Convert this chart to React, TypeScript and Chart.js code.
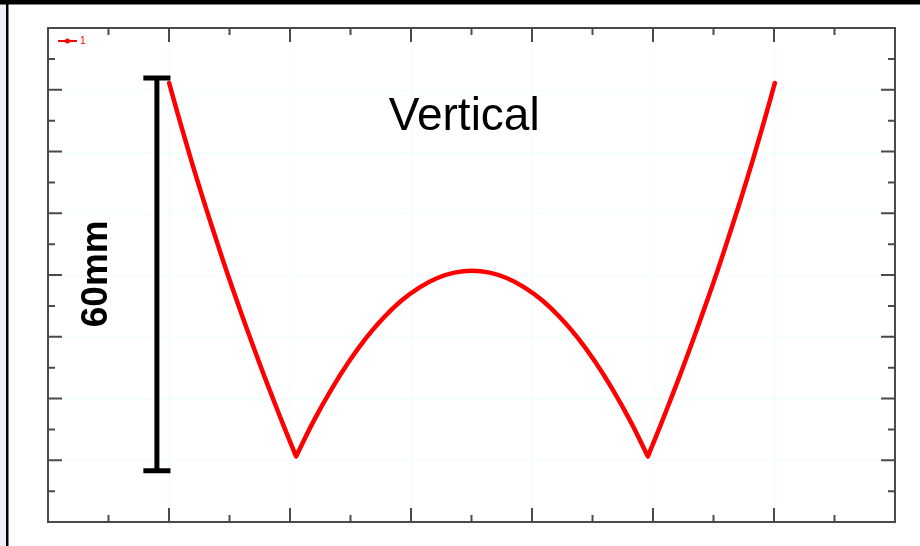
import { useEffect, useRef } from 'react';
import { Chart, registerables } from 'chart.js';

Chart.register(...registerables);

// Curve samples (abstract units: x major tick = 1, y major tick = 1).
// The cusp points are listed twice so that the spline keeps them sharp.
const xValues = [
  1.001, 1.073, 1.147, 1.224, 1.304, 1.387, 1.472, 1.561, 1.653, 1.747, 1.845, 1.946, 2.05,
  2.05, 2.195, 2.341, 2.486, 2.631, 2.777, 2.922, 3.068, 3.213, 3.359, 3.504,
  3.649, 3.795, 3.94, 4.086, 4.231, 4.377, 4.522, 4.667, 4.813, 4.958,
  4.958, 5.062, 5.163, 5.261, 5.355, 5.447, 5.536, 5.621, 5.704, 5.784, 5.861, 5.935, 6.007,
];
const yValues = [
  7.11, 6.606, 6.102, 5.598, 5.094, 4.59, 4.086, 3.582, 3.078, 2.574, 2.07, 1.566, 1.062,
  1.062, 1.633, 2.144, 2.595, 2.986, 3.316, 3.587, 3.797, 3.948, 4.038, 4.068,
  4.038, 3.948, 3.797, 3.587, 3.316, 2.986, 2.595, 2.144, 1.633, 1.062,
  1.062, 1.566, 2.07, 2.574, 3.078, 3.582, 4.086, 4.59, 5.094, 5.598, 6.102, 6.606, 7.11,
];
const seriesLabel = '1';

// Axis extents and ticks
const xMin = 0;
const xMax = 7;
const yMin = 0;
const yMax = 8;
const xTicks = [0, 0.5, 1, 1.5, 2, 2.5, 3, 3.5, 4, 4.5, 5, 5.5, 6, 6.5, 7];
const yTicks = [0, 0.5, 1, 1.5, 2, 2.5, 3, 3.5, 4, 4.5, 5, 5.5, 6, 6.5, 7, 7.5, 8];

// Annotations (data units)
const titleText = 'Vertical';
const titlePos = { x: 3.44, y: 6.56 };
const dimText = '60mm';
const dimLabelPos = { x: 0.405, y: 4.02 };
const dimBar = { x: 0.9, top: 7.19, bottom: 0.83, capHalf: 0.112 };

const isMajor = (v: number) => Math.abs(v - Math.round(v)) < 1e-6;

const decorPlugin = {
  id: 'decor',
  beforeDraw(chart: any) {
    const { ctx, chartArea: a, scales } = chart;
    const xs = scales.x;
    const ys = scales.y;
    ctx.save();
    ctx.fillStyle = '#ffffff';
    ctx.fillRect(0, 0, chart.width, chart.height);
    // outer frame
    ctx.fillStyle = '#eef1fb';
    ctx.fillRect(0, 0, 6, chart.height);
    ctx.fillStyle = '#000000';
    ctx.fillRect(6, 0, 2.5, chart.height);
    ctx.fillRect(0, 0, chart.width, 4.5);
    // faint grid
    ctx.strokeStyle = '#eefefe';
    ctx.lineWidth = 1;
    ctx.beginPath();
    for (const v of xTicks) {
      if (!isMajor(v)) continue;
      const px = Math.round(xs.getPixelForValue(v)) + 0.5;
      ctx.moveTo(px, a.top);
      ctx.lineTo(px, a.bottom);
    }
    for (const v of yTicks) {
      if (!isMajor(v)) continue;
      const py = Math.round(ys.getPixelForValue(v)) + 0.5;
      ctx.moveTo(a.left, py);
      ctx.lineTo(a.right, py);
    }
    ctx.stroke();
    ctx.restore();
  },
  beforeDatasetsDraw(chart: any) {
    const { ctx, chartArea: a, scales } = chart;
    const xs = scales.x;
    const ys = scales.y;
    ctx.save();
    ctx.strokeStyle = '#4a4a4a';
    ctx.lineWidth = 2;
    ctx.strokeRect(a.left, a.top, a.right - a.left, a.bottom - a.top);
    ctx.beginPath();
    for (const v of xTicks) {
      const len = isMajor(v) ? 14 : 7;
      const px = xs.getPixelForValue(v);
      ctx.moveTo(px, a.bottom);
      ctx.lineTo(px, a.bottom - len);
      ctx.moveTo(px, a.top);
      ctx.lineTo(px, a.top + len);
    }
    for (const v of yTicks) {
      const len = isMajor(v) ? 14 : 7;
      const py = ys.getPixelForValue(v);
      ctx.moveTo(a.left, py);
      ctx.lineTo(a.left + len, py);
      ctx.moveTo(a.right, py);
      ctx.lineTo(a.right - len, py);
    }
    ctx.stroke();
    // legend
    const ly = a.top + 13;
    ctx.strokeStyle = '#ff0000';
    ctx.lineWidth = 2;
    ctx.beginPath();
    ctx.moveTo(a.left + 10, ly);
    ctx.lineTo(a.left + 29, ly);
    ctx.stroke();
    ctx.fillStyle = '#ff0000';
    ctx.beginPath();
    ctx.arc(a.left + 19.5, ly, 2.5, 0, Math.PI * 2);
    ctx.fill();
    ctx.font = '10px "Liberation Sans", Arial, sans-serif';
    ctx.textBaseline = 'middle';
    ctx.textAlign = 'left';
    ctx.fillText(seriesLabel, a.left + 32, ly);
    ctx.restore();
  },
  afterDatasetsDraw(chart: any) {
    const { ctx, scales } = chart;
    const xs = scales.x;
    const ys = scales.y;
    ctx.save();
    // title
    ctx.fillStyle = '#000000';
    ctx.font = '46px "Liberation Sans", Arial, sans-serif';
    ctx.textAlign = 'center';
    ctx.textBaseline = 'middle';
    ctx.fillText(titleText, xs.getPixelForValue(titlePos.x), ys.getPixelForValue(titlePos.y));
    // dimension bar
    const bx = xs.getPixelForValue(dimBar.x);
    const bt = ys.getPixelForValue(dimBar.top);
    const bb = ys.getPixelForValue(dimBar.bottom);
    const c0 = xs.getPixelForValue(dimBar.x - dimBar.capHalf);
    const c1 = xs.getPixelForValue(dimBar.x + dimBar.capHalf);
    ctx.strokeStyle = '#000000';
    ctx.lineWidth = 5;
    ctx.lineCap = 'butt';
    ctx.beginPath();
    ctx.moveTo(bx, bt);
    ctx.lineTo(bx, bb);
    ctx.moveTo(c0, bt);
    ctx.lineTo(c1, bt);
    ctx.moveTo(c0, bb);
    ctx.lineTo(c1, bb);
    ctx.stroke();
    // dimension label
    ctx.translate(xs.getPixelForValue(dimLabelPos.x), ys.getPixelForValue(dimLabelPos.y));
    ctx.rotate(-Math.PI / 2);
    ctx.font = 'bold 37px "Liberation Sans", Arial, sans-serif';
    ctx.textAlign = 'center';
    ctx.textBaseline = 'middle';
    ctx.fillText(dimText, 0, 0);
    ctx.restore();
  },
};

export default function App() {
  const ref = useRef<HTMLCanvasElement | null>(null);
  useEffect(() => {
    if (!ref.current) return;
    const chart = new Chart(ref.current, {
      type: 'line',
      data: {
        datasets: [
          {
            label: seriesLabel,
            data: xValues.map((x, i) => ({ x, y: yValues[i] })),
            borderColor: '#ff0000',
            backgroundColor: '#ff0000',
            borderWidth: 4.5,
            pointRadius: 0,
            tension: 0.4,
            borderJoinStyle: 'round',
            borderCapStyle: 'round',
            fill: false,
          },
        ],
      },
      options: {
        responsive: false,
        animation: false,
        layout: { padding: { left: 48, right: 25, top: 28, bottom: 24 } },
        plugins: { legend: { display: false }, tooltip: { enabled: false }, title: { display: false } },
        scales: {
          x: { type: 'linear', min: xMin, max: xMax, display: false },
          y: { type: 'linear', min: yMin, max: yMax, display: false },
        },
      },
      plugins: [decorPlugin],
    });
    return () => chart.destroy();
  }, []);
  return (
    <div style={{ position: 'fixed', left: 0, top: 0, width: 920, height: 546 }}>
      <canvas ref={ref} width={920} height={546} style={{ display: 'block', width: 920, height: 546 }} />
    </div>
  );
}
